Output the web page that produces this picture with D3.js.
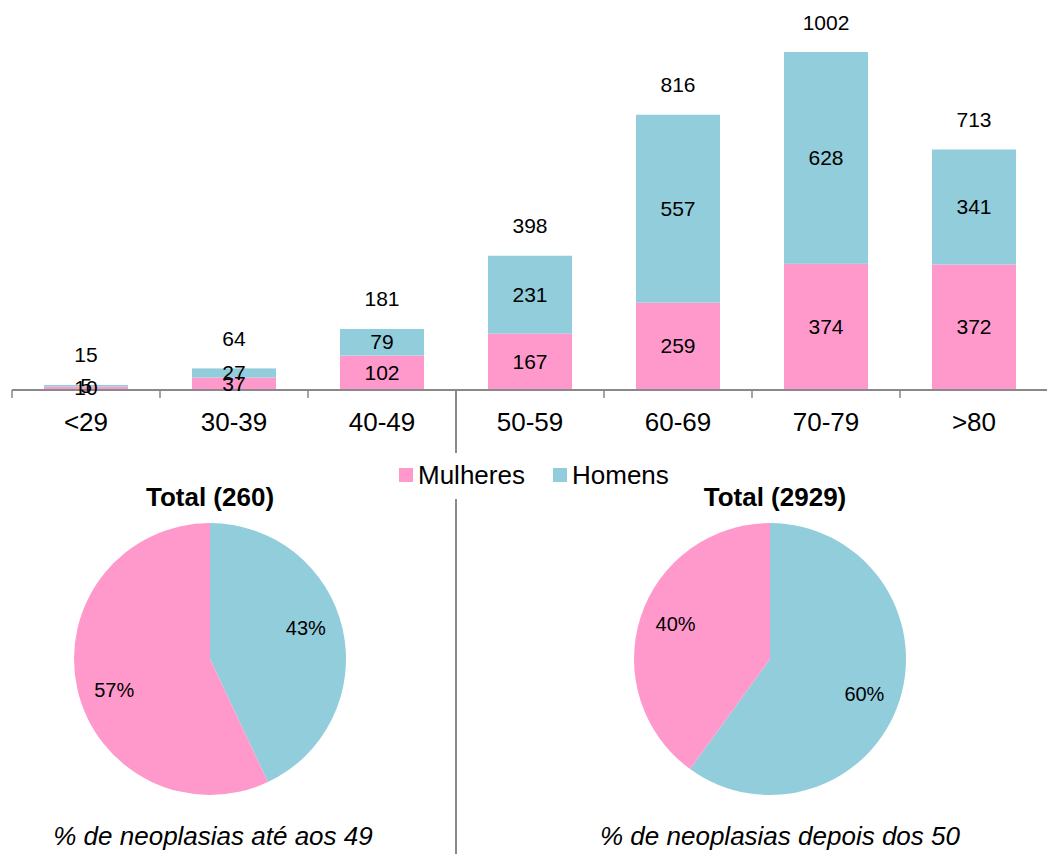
<!DOCTYPE html>
<html>
<head>
<meta charset="utf-8">
<script src="https://cdn.jsdelivr.net/npm/d3@7"></script>
<style>
  html, body { margin: 0; padding: 0; background: #fff; }
  svg { display: block; font-family: "Liberation Sans", Arial, sans-serif; }
</style>
</head>
<body>
<svg id="chart" width="1047" height="854"></svg>
<script>
// Age groups and counts per sex
const categories = ["<29", "30-39", "40-49", "50-59", "60-69", "70-79", ">80"];
const mulheres = [10, 37, 102, 167, 259, 374, 372];
const homens = [5, 27, 79, 231, 557, 628, 341];
const totals = [15, 64, 181, 398, 816, 1002, 713];
const seriesNames = ["Mulheres", "Homens"];

// Pie summaries: up to 49 and from 50 on
const pieTitles = ["Total (260)", "Total (2929)"];
const pieCaptions = ["% de neoplasias até aos 49", "% de neoplasias depois dos 50"];
const pieHomens = [43, 60];
const pieMulheres = [57, 40];

const colors = { Mulheres: "#FF99CC", Homens: "#92CDDC" };
const axisColor = "#898989";

const svg = d3.select("#chart");

// ---- Stacked bars ----
const baseY = 390;
const x = d3.scaleBand().domain(categories).range([12, 1048])
  .paddingInner(0.4324).paddingOuter(0.2162);
const y = d3.scaleLinear().domain([0, 1002]).range([baseY, 52]);

const rows = categories.map((c, i) => ({ cat: c, Mulheres: mulheres[i], Homens: homens[i], total: totals[i] }));
const stack = d3.stack().keys(seriesNames)(rows);

const gBars = svg.append("g");
stack.forEach(layer => {
  const key = layer.key;
  gBars.selectAll(null).data(layer).join("rect")
    .attr("x", d => x(d.data.cat))
    .attr("width", x.bandwidth())
    .attr("y", d => y(d[1]))
    .attr("height", d => y(d[0]) - y(d[1]))
    .attr("fill", colors[key]);
});

// Axis line and category boundary ticks
const step = x.step();
const bounds = d3.range(categories.length + 1).map(i => 12 + i * step);
svg.append("line").attr("x1", 12).attr("x2", 1048).attr("y1", baseY).attr("y2", baseY)
  .attr("stroke", axisColor).attr("stroke-width", 2);
svg.selectAll(null).data(bounds.slice(0, -1)).join("line")
  .attr("x1", d => d).attr("x2", d => d)
  .attr("y1", baseY).attr("y2", baseY + 8)
  .attr("stroke", axisColor).attr("stroke-width", 1.5);

// Divider between the two halves
svg.append("line").attr("x1", bounds[3]).attr("x2", bounds[3])
  .attr("y1", baseY).attr("y2", 453).attr("stroke", axisColor).attr("stroke-width", 2);
svg.append("line").attr("x1", bounds[3]).attr("x2", bounds[3])
  .attr("y1", 499).attr("y2", 854).attr("stroke", axisColor).attr("stroke-width", 2);

// Category labels
svg.selectAll(null).data(categories).join("text")
  .attr("x", d => x(d) + x.bandwidth() / 2)
  .attr("y", 431)
  .attr("text-anchor", "middle")
  .attr("font-size", 26)
  .attr("fill", "#000")
  .text(d => d);

// Segment value labels
stack.forEach(layer => {
  svg.selectAll(null).data(layer).join("text")
    .attr("x", d => x(d.data.cat) + x.bandwidth() / 2)
    .attr("y", d => (y(d[0]) + y(d[1])) / 2 + 7)
    .attr("text-anchor", "middle")
    .attr("font-size", 21)
    .attr("fill", "#000")
    .text(d => d.data[layer.key]);
});

// Total labels above bars
svg.selectAll(null).data(rows).join("text")
  .attr("x", d => x(d.cat) + x.bandwidth() / 2)
  .attr("y", d => y(d.total) - 22.5)
  .attr("text-anchor", "middle")
  .attr("font-size", 21)
  .attr("fill", "#000")
  .text(d => d.total);

// ---- Legend ----
const legend = svg.append("g");
const legendItems = [{ name: "Mulheres", x: 399 }, { name: "Homens", x: 553 }];
legendItems.forEach(it => {
  legend.append("rect").attr("x", it.x).attr("y", 468).attr("width", 14).attr("height", 14)
    .attr("fill", colors[it.name]);
  legend.append("text").attr("x", it.x + 19).attr("y", 484)
    .attr("font-size", 26).attr("fill", "#000").text(it.name);
});

// ---- Pies ----
const pieCenters = [210, 770];
const labelTurn = [-0.09, 0.04];   // small rotation of the percentage labels (radians)
const pieCY = 659, R = 136;
const pie = d3.pie().sort(null).value(d => d.value);
const arc = d3.arc().innerRadius(0).outerRadius(R);
const labelArc = d3.arc().innerRadius(R * 0.74).outerRadius(R * 0.74);

pieCenters.forEach((cx, i) => {
  const data = [
    { key: "Homens", value: pieHomens[i] },
    { key: "Mulheres", value: pieMulheres[i] }
  ];
  const g = svg.append("g").attr("transform", `translate(${cx},${pieCY})`);
  const arcs = pie(data);
  g.selectAll("path").data(arcs).join("path")
    .attr("d", arc)
    .attr("fill", d => colors[d.data.key]);
  g.selectAll("text").data(arcs).join("text")
    .attr("transform", d => {
      const c = labelArc.centroid({ startAngle: d.startAngle + labelTurn[i], endAngle: d.endAngle + labelTurn[i] });
      return `translate(${c})`;
    })
    .attr("dy", "0.35em")
    .attr("text-anchor", "middle")
    .attr("font-size", 20)
    .attr("fill", "#000")
    .text(d => d.data.value + "%");
});

svg.selectAll(null).data(pieTitles).join("text")
  .attr("x", (d, i) => [210, 775][i])
  .attr("y", 506)
  .attr("text-anchor", "middle")
  .attr("font-size", 26)
  .attr("font-weight", "bold")
  .attr("fill", "#000")
  .text(d => d);

svg.selectAll(null).data(pieCaptions).join("text")
  .attr("x", (d, i) => [213, 780][i])
  .attr("y", 845)
  .attr("text-anchor", "middle")
  .attr("font-size", 26)
  .attr("font-style", "italic")
  .attr("fill", "#000")
  .text(d => d);
</script>
</body>
</html>
